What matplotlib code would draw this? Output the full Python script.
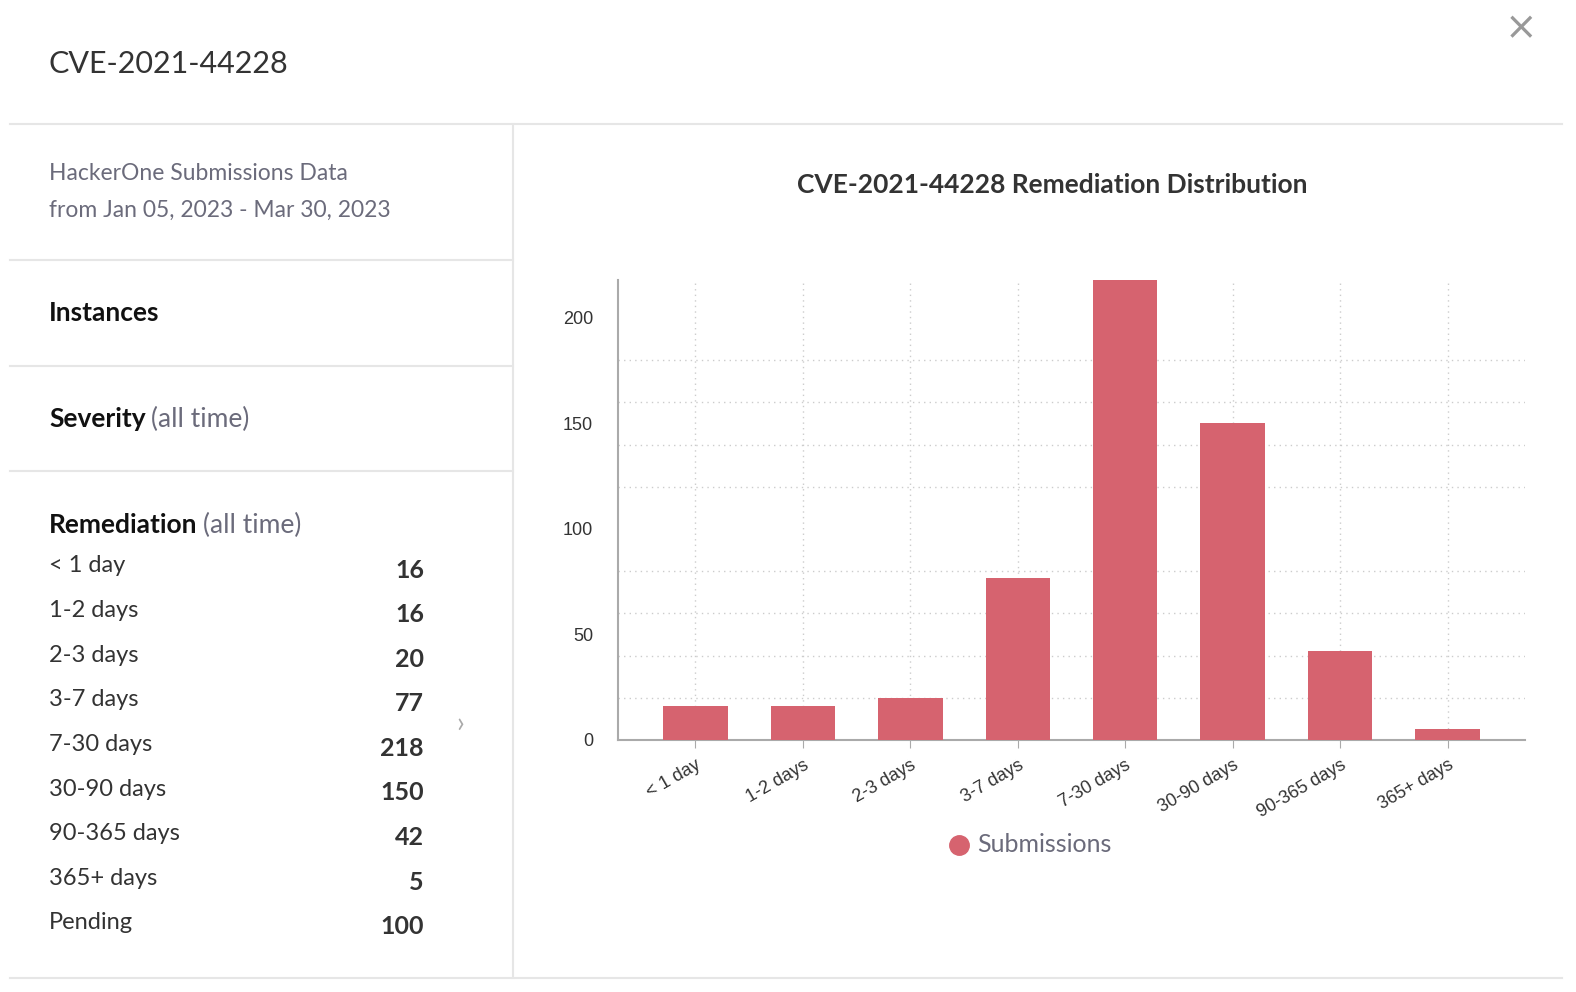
import matplotlib.pyplot as plt
from matplotlib.lines import Line2D
import numpy as np

plt.rcParams['font.family'] = ['Lato', 'DejaVu Sans']

title = 'CVE-2021-44228'
categories = ['< 1 day', '1-2 days', '2-3 days', '3-7 days', '7-30 days',
              '30-90 days', '90-365 days', '365+ days']
submissions = [16, 16, 20, 77, 218, 150, 42, 5]
table_labels = categories + ['Pending']
table_values = submissions + [100]

bar_color = '#d6636f'
dark = '#333333'
gray = '#6b6b7b'
line_c = '#e6e6e6'

W, H = 1576, 992
fig = plt.figure(figsize=(W / 100, H / 100), dpi=100)

def px(x, y):
    return x / W, 1 - y / H

def hline(x0, x1, y):
    fig.add_artist(Line2D([x0 / W, x1 / W], [1 - y / H] * 2, color=line_c, lw=1.5))

def suffix(t, s, size):
    fig.text(0, 0, '')
    plt.annotate(s, xy=(1, 0.5), xycoords=t, xytext=(4, 0), textcoords='offset points',
                 fontsize=size, color=gray, va='center')

fig.text(*px(49, 64), title, fontsize=22, color=dark, va='center')
fig.text(*px(1521, 28), '\u00d7', fontsize=28, color='#999999', ha='center', va='center',
         family='DejaVu Sans')
hline(10, 1562, 124)
hline(10, 513, 260)
hline(10, 513, 366)
hline(10, 513, 471)
hline(10, 1562, 978)
fig.add_artist(Line2D([513 / W] * 2, [1 - 124 / H, 1 - 978 / H], color=line_c, lw=1.5))

fig.text(*px(49, 173), 'HackerOne Submissions Data', fontsize=16.5, color=gray, va='center')
fig.text(*px(49, 210), 'from Jan 05, 2023 - Mar 30, 2023', fontsize=16.5, color=gray, va='center')
fig.text(*px(49, 313), 'Instances', fontsize=19, color='#111111', weight='bold', va='center')

ax = fig.add_axes([618 / W, 1 - 740 / H, (1525 - 618) / W, (740 - 280) / H])

t = fig.text(*px(49, 419), 'Severity', fontsize=19, color='#111111', weight='bold', va='center')
ax.annotate('(all time)', xy=(1, 0.5), xycoords=t, xytext=(4, 0), textcoords='offset points',
            fontsize=19, color=gray, va='center', annotation_clip=False)
t = fig.text(*px(49, 525), 'Remediation', fontsize=19, color='#111111', weight='bold', va='center')
ax.annotate('(all time)', xy=(1, 0.5), xycoords=t, xytext=(4, 0), textcoords='offset points',
            fontsize=19, color=gray, va='center', annotation_clip=False)
for i, (lab, v) in enumerate(zip(table_labels, table_values)):
    y = 566 + i * 44.6
    fig.text(*px(49, y), lab, fontsize=17, color=dark, va='center')
    fig.text(*px(424, y + 4), str(v), fontsize=18, color=dark, ha='right', va='center',
             weight='bold')
fig.text(*px(460, 724), '\u203a', fontsize=20, color='#aaaaaa', ha='center', va='center')

fig.text(*px(1052, 185), f'{title} Remediation Distribution', fontsize=19,
         color=dark, weight='bold', ha='center', va='center')

x = np.arange(len(categories))
ax.bar(x, submissions, width=0.6, color=bar_color, zorder=3)
ax.set_xlim(-0.72, len(categories) - 0.28)
ax.set_ylim(0, 218)
ax.set_yticks([0, 50, 100, 150, 200])
ax.set_yticks(np.arange(20, 220, 20), minor=True)
ax.grid(which='minor', axis='y', color='#cccccc', ls=(0, (1, 3)), lw=1)
ax.grid(which='major', axis='x', color='#cccccc', ls=(0, (1, 3)), lw=1)
ax.tick_params(axis='y', which='both', length=0, labelsize=13, labelcolor=dark, pad=18)
ax.set_xticks(x)
ax.set_xticklabels(categories, rotation=30, ha='right', rotation_mode='anchor',
                   fontsize=13, color=dark, family='Liberation Sans')
ax.tick_params(axis='x', length=6, color='#aaaaaa', pad=6)
for s in ['top', 'right']:
    ax.spines[s].set_visible(False)
ax.spines['left'].set_color('#aaaaaa')
ax.spines['bottom'].set_color('#aaaaaa')
ax.spines['left'].set_linewidth(1.5)
ax.spines['bottom'].set_linewidth(1.5)
for lab in ax.get_yticklabels():
    lab.set_family('Liberation Sans')

fig.add_artist(Line2D([959 / W], [1 - 845 / H], marker='o', color=bar_color, ms=14, ls=''))
fig.text(*px(977, 845), 'Submissions', fontsize=18, color=gray, va='center')

fig.savefig('out.png', dpi=100)
